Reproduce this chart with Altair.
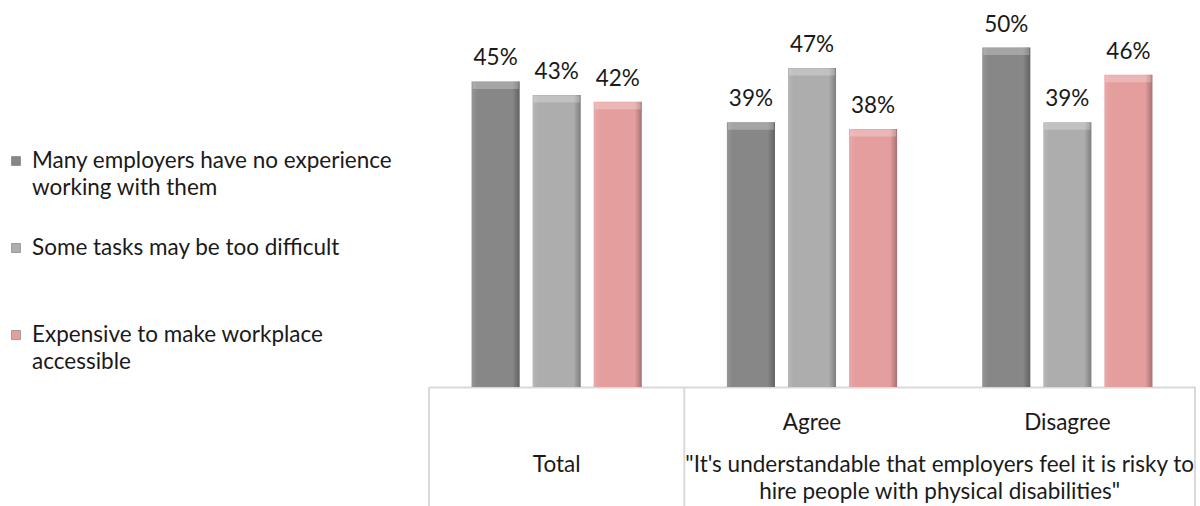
import altair as alt
import pandas as pd

# Categories, series and values
groups = ["Total", "Agree", "Disagree"]
series = [
    "Many employers have no experience working with them",
    "Some tasks may be too difficult",
    "Expensive to make workplace accessible",
]
legend_labels = [
    "Many employers have no experience\nworking with them",
    "Some tasks may be too difficult",
    "Expensive to make workplace\naccessible",
]
no_experience = [0.45, 0.39, 0.50]
too_difficult = [0.43, 0.47, 0.39]
expensive = [0.42, 0.38, 0.46]
colors = ["#878787", "#adadad", "#e59e9e"]
question = "\"It's understandable that employers feel it is risky to\nhire people with physical disabilities\""

rows = []
for i, g in enumerate(groups):
    for s, vals in zip(series, [no_experience, too_difficult, expensive]):
        rows.append({"group": g, "series": s, "value": vals[i]})
df = pd.DataFrame(rows)

FONT = "Lato"
FS = 22.5
TXT = "#1a1a1a"
LINE = "#d9d9d9"
W, H = 766, 387
BOTTOM = 506

x_scale = alt.Scale(domain=groups, paddingInner=0, paddingOuter=0)
x_axis = alt.Axis(labels=False, ticks=False, title=None, grid=False,
                  domainColor=LINE, domainWidth=2)


def xenc(**kw):
    return alt.X("group:N", sort=groups, scale=x_scale, axis=x_axis, **kw)


xo = alt.XOffset("series:N", sort=series,
                 scale=alt.Scale(domain=series, paddingInner=0.213, paddingOuter=0.697))
y = alt.Y("value:Q", scale=alt.Scale(domain=[0, 0.57], nice=False), axis=None)
color = alt.Color("series:N", scale=alt.Scale(domain=series, range=colors), legend=None)

base = alt.Chart(df).encode(x=xenc(), xOffset=xo, y=y)

bars = base.mark_bar().encode(color=color)

# bevel-like shading over each bar: light left edge, dark right edge
shade = base.mark_bar(
    fill=alt.Gradient(
        gradient="linear", x1=0, x2=1, y1=0, y2=0,
        stops=[
            alt.GradientStop(offset=0, color="rgba(255,255,255,0.12)"),
            alt.GradientStop(offset=0.12, color="rgba(255,255,255,0.0)"),
            alt.GradientStop(offset=0.85, color="rgba(0,0,0,0.0)"),
            alt.GradientStop(offset=1, color="rgba(0,0,0,0.28)"),
        ],
    )
)
top_bevel = base.mark_tick(orient="horizontal", size=46, thickness=7,
                           color="white", opacity=0.25, yOffset=4)

value_labels = base.mark_text(font=FONT, fontSize=FS, baseline="alphabetic",
                              dy=-16, color=TXT).encode(
    text=alt.Text("value:Q", format=".0%"))

# table-style category axis below the plot
left_seps = alt.Chart(pd.DataFrame({"group": ["Total", "Agree"]})).mark_rule(
    color=LINE, strokeWidth=2).encode(
    x=xenc(bandPosition=0), y=alt.value(H), y2=alt.value(BOTTOM))
right_sep = alt.Chart(pd.DataFrame({"group": ["Disagree"]})).mark_rule(
    color=LINE, strokeWidth=2).encode(
    x=xenc(bandPosition=1), y=alt.value(H), y2=alt.value(BOTTOM))

sub_labels = alt.Chart(pd.DataFrame({"group": ["Agree", "Disagree"]})).mark_text(
    font=FONT, fontSize=FS, baseline="alphabetic", color=TXT).encode(
    x=xenc(), y=alt.value(430), text="group:N")
total_label = alt.Chart(pd.DataFrame({"group": ["Total"]})).mark_text(
    font=FONT, fontSize=FS, baseline="alphabetic", color=TXT).encode(
    x=xenc(), y=alt.value(472), text="group:N")
question_label = alt.Chart(pd.DataFrame({"group": ["Agree"], "q": [question]})).mark_text(
    font=FONT, fontSize=FS, baseline="alphabetic", color=TXT,
    lineBreak="\n", lineHeight=27).encode(
    x=xenc(bandPosition=1), y=alt.value(472), text="q:N")

plot = alt.layer(bars, shade, top_bevel, value_labels, left_seps, right_sep,
                 sub_labels, total_label, question_label).properties(width=W, height=H)

# legend drawn as its own panel on the left
leg_df = pd.DataFrame({"series": series, "label": legend_labels})
leg_y = alt.Y("series:N", sort=series,
              scale=alt.Scale(domain=series, range=[168, 342], padding=0), axis=None)
leg_sq = alt.Chart(leg_df).mark_square(size=81, opacity=1, yOffset=-7,
                                       stroke="#777777", strokeWidth=0.6).encode(
    x=alt.value(16), y=leg_y, color=color)
leg_txt = alt.Chart(leg_df).mark_text(
    font=FONT, fontSize=FS, align="left", baseline="alphabetic", color=TXT,
    lineBreak="\n", lineHeight=27).encode(
    x=alt.value(32), y=leg_y, text="label:N")
legend = alt.layer(leg_sq, leg_txt).properties(width=400, height=H)

chart = alt.hconcat(legend, plot, spacing=29, bounds="flush").properties(
    padding={"left": 0, "top": 0, "right": 0, "bottom": 0},
    background="white",
).configure_view(stroke=None)

chart.save("out.html", embed_options={"renderer": "svg", "actions": False})
